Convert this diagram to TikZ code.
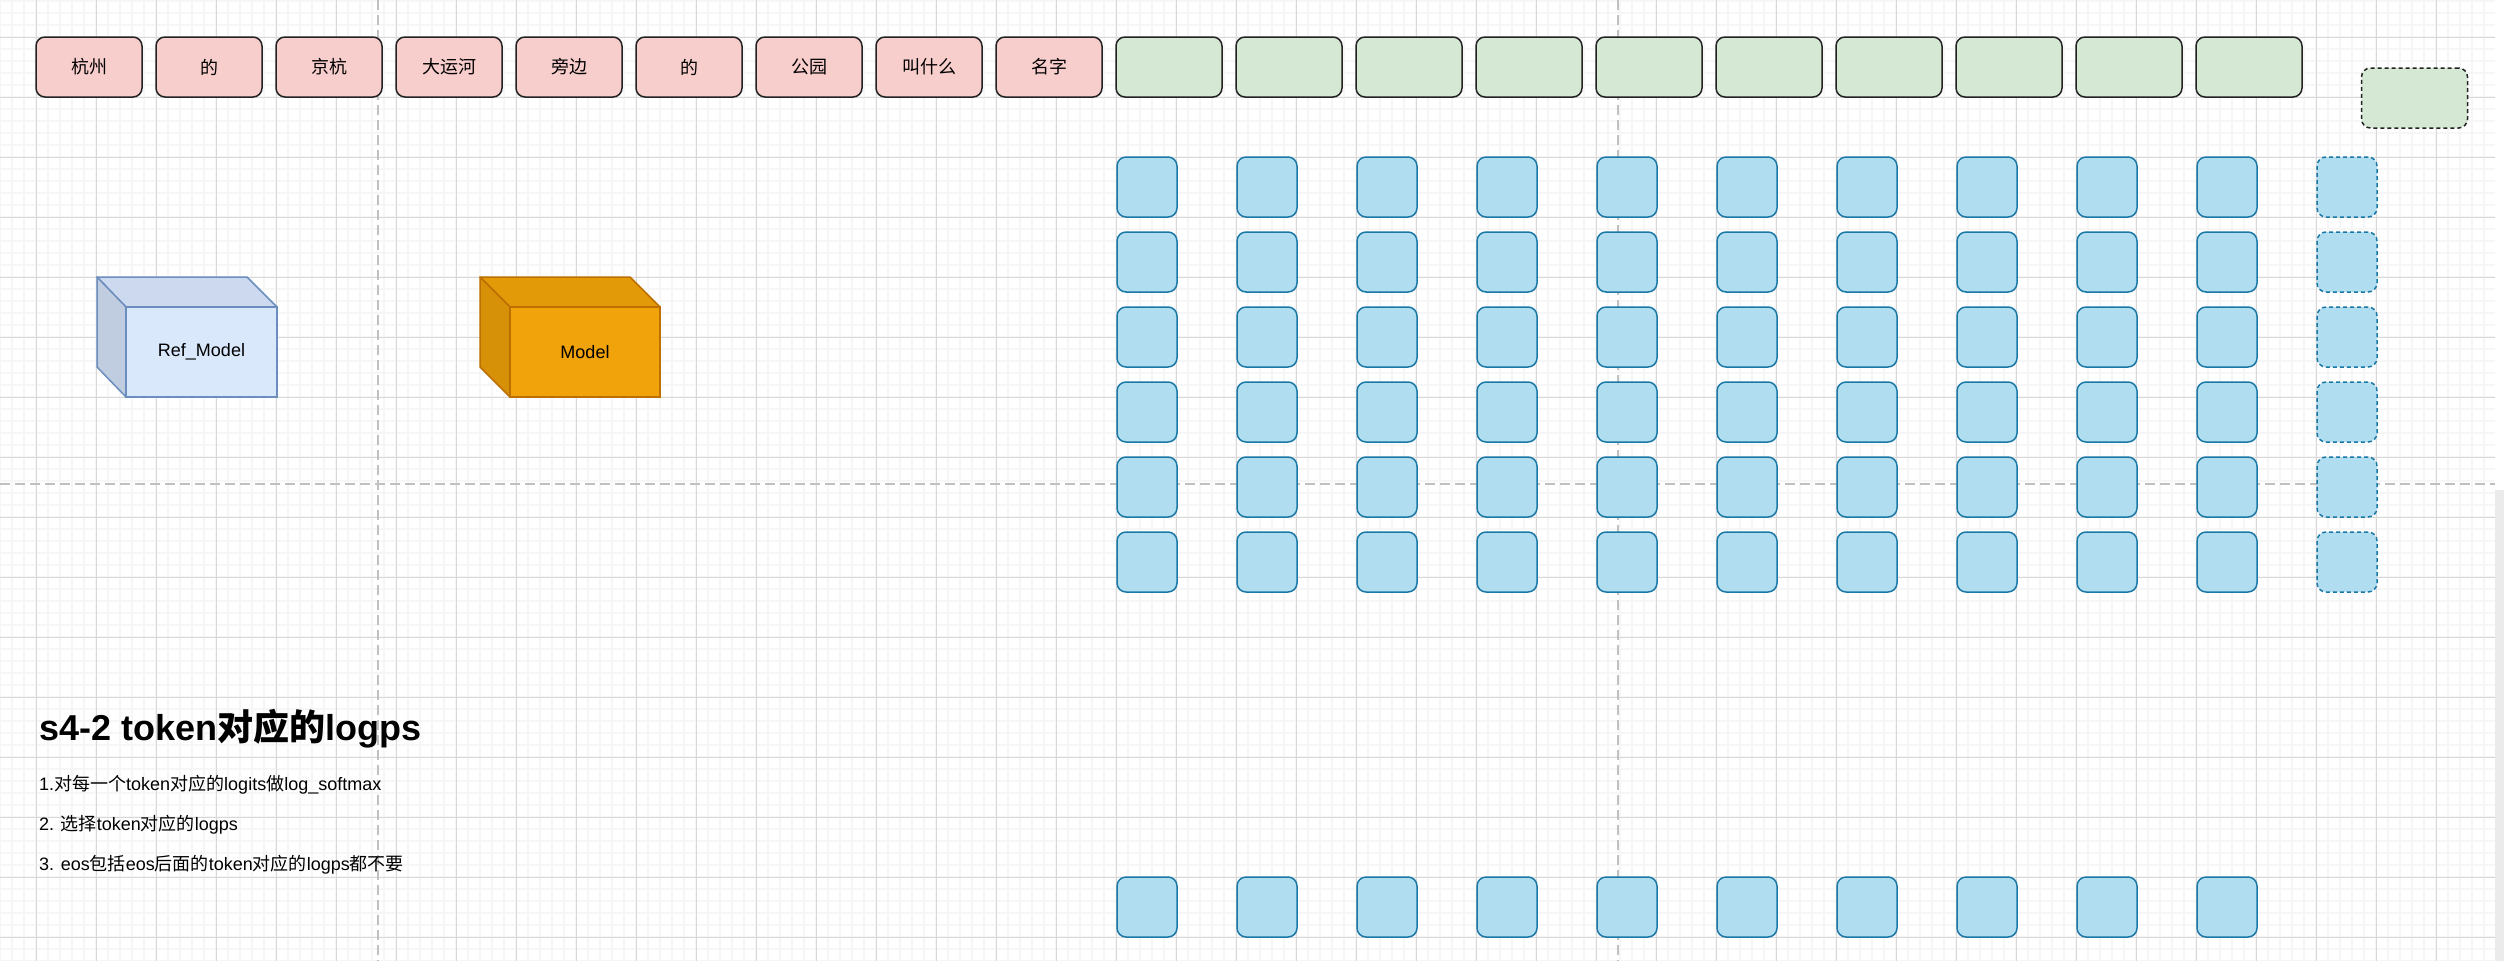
\documentclass[tikz,border=0pt]{standalone}
\usepackage{fontspec}
\setmainfont{Liberation Sans}
\newfontfamily\cjk{Noto Sans CJK SC}
\newcommand\zh[1]{{\cjk #1}}
\definecolor{gridminor}{HTML}{F6F6F6}
\definecolor{gridmajor}{HTML}{D8D8D8}
\definecolor{pagebrk}{HTML}{C0C0C0}
\definecolor{tokpink}{HTML}{F8CECC}
\definecolor{tokgreen}{HTML}{D5E8D4}
\definecolor{tokline}{HTML}{222222}
\definecolor{cellfill}{HTML}{B1DDF0}
\definecolor{cellline}{HTML}{1A78A6}
\definecolor{refFront}{HTML}{DAE8FC}
\definecolor{refTop}{HTML}{CDD9EE}
\definecolor{refSide}{HTML}{C0CCE0}
\definecolor{refLine}{HTML}{6C8EBF}
\definecolor{modFront}{HTML}{F0A30A}
\definecolor{modTop}{HTML}{E39A09}
\definecolor{modSide}{HTML}{D79108}
\definecolor{modLine}{HTML}{BD7000}
\tikzset{
  tokbox/.style={draw=tokline, line width=1.5pt, rounded corners=9pt,
    minimum width=106pt, minimum height=60pt, inner sep=0pt,
    font=\fontsize{18pt}{22pt}\selectfont\cjk},
  cellbox/.style={draw=cellline, fill=cellfill, line width=1.5pt, rounded corners=9pt,
    minimum width=60pt, minimum height=60pt, inner sep=0pt},
  txtline/.style={anchor=base west, inner sep=0pt, font=\fontsize{18pt}{22pt}\selectfont},
}
\begin{document}
\begin{tikzpicture}[x=1pt,y=-1pt]
\useasboundingbox (0,0) rectangle (2504,961);
\fill[white] (0,0) rectangle (2504,961);
% grid
\begin{scope}
\clip (0,0) rectangle (2495,961);
\foreach \i in {0,12,...,2496} \draw[gridminor, line width=1.4pt] (\i,0) -- (\i,961);
\foreach \j in {1,13,...,961} \draw[gridminor, line width=1.4pt] (0,\j) -- (2504,\j);
\foreach \i in {36,96,...,2496} \draw[gridmajor, line width=0.9pt] (\i,0) -- (\i,961);
\foreach \j in {37,97,...,961} \draw[gridmajor, line width=0.9pt] (0,\j) -- (2504,\j);
% page breaks
\draw[pagebrk, line width=1.8pt, dash pattern=on 10pt off 5pt] (378,0) -- (378,961);
\draw[pagebrk, line width=1.8pt, dash pattern=on 10pt off 5pt] (1618,0) -- (1618,961);
\draw[pagebrk, line width=1.8pt, dash pattern=on 10pt off 5pt] (0,484) -- (2495,484);
\end{scope}
\fill[white] (2495,0) rectangle (2504,490);
\fill[black!8] (2495,490) rectangle (2504,961);
% token row
\foreach \w [count=\k from 0] in {杭州,的,京杭,大运河,旁边,的,公园,叫什么,名字}
  \node[tokbox, fill=tokpink] (t\k) at ({89+120*\k},67) {\w};
\foreach \k in {9,...,18}
  \node[tokbox, fill=tokgreen] (t\k) at ({89+120*\k},67) {};
\node[tokbox, fill=tokgreen, dash pattern=on 4pt off 3pt] (teos) at (2414.5,98) {};
% logits cells
\foreach \k in {0,...,9}
  \foreach \j in {0,...,5}
    \node[cellbox] (c\k-\j) at ({1147+120*\k},{187+75*\j}) {};
\foreach \j in {0,...,5}
  \node[cellbox, dash pattern=on 4pt off 3pt] (c10-\j) at (2347,{187+75*\j}) {};
\foreach \k in {0,...,9}
  \node[cellbox] (lp\k) at ({1147+120*\k},907) {};
% Ref_Model cube
\filldraw[fill=refTop, draw=refLine, line width=1.5pt, line join=round]
  (97,277) -- (247,277) -- (277,307) -- (126,307) -- cycle;
\filldraw[fill=refSide, draw=refLine, line width=1.5pt, line join=round]
  (97,277) -- (126,307) -- (126,397) -- (97,367) -- cycle;
\node[draw=refLine, fill=refFront, line width=1.5pt, minimum width=151pt, minimum height=90pt,
  inner sep=0pt, font=\fontsize{18pt}{22pt}\selectfont] (refmodel) at (201.5,352) {Ref\_Model};
% Model cube
\filldraw[fill=modTop, draw=modLine, line width=1.5pt, line join=round]
  (480,277) -- (630,277) -- (660,307) -- (510,307) -- cycle;
\filldraw[fill=modSide, draw=modLine, line width=1.5pt, line join=round]
  (480,277) -- (510,307) -- (510,397) -- (480,367) -- cycle;
\node[draw=modLine, fill=modFront, line width=1.5pt, minimum width=150pt, minimum height=90pt,
  inner sep=0pt, font=\fontsize{18pt}{22pt}\selectfont] (model) at (585,352) {Model};
% text
\node[anchor=base west, inner sep=0pt, font=\fontsize{36pt}{42pt}\selectfont\bfseries]
  (title) at (39,740) {s4-2 token\zh{对应的}logps};
\node[txtline] (l1) at (39,790) {1.\zh{对每一个}token\zh{对应的}logits\zh{做}log\_softmax};
\node[txtline] (l2) at (39,830) {2. \zh{选择}token\zh{对应的}logps};
\node[txtline] (l3) at (39,870) {3. eos\zh{包括}eos\zh{后面的}token\zh{对应的}logps\zh{都不要}};
\end{tikzpicture}
\end{document}
